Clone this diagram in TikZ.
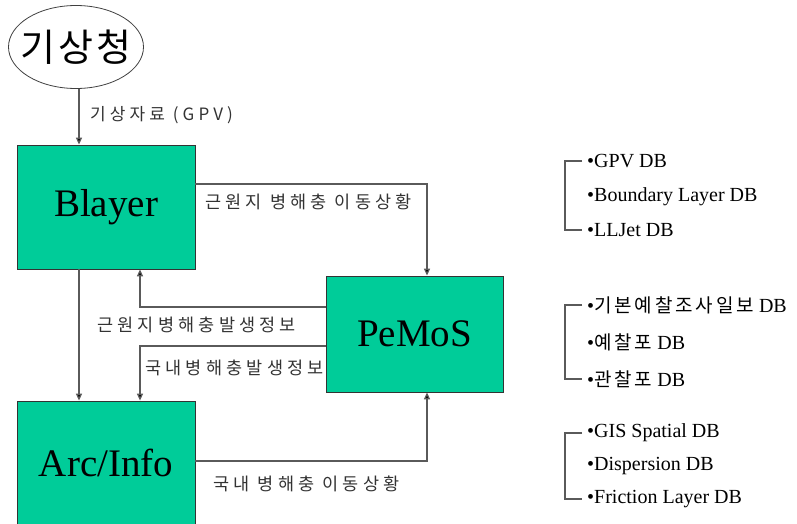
\documentclass[tikz,border=0pt]{standalone}
\usepackage{fontspec}
\setmainfont{Liberation Serif}
\newfontfamily\krfont[LetterSpace=24]{Noto Sans CJK KR}
\newfontfamily\krwide[LetterSpace=8]{Noto Sans CJK KR}
\newfontfamily\krlist[LetterSpace=15]{Noto Sans CJK KR}
\usetikzlibrary{arrows.meta,shapes.geometric}
\definecolor{boxteal}{RGB}{0,204,153}
\definecolor{wire}{RGB}{90,90,90}
\tikzset{
  sysbox/.style={draw=black!80, line width=0.8pt, fill=boxteal,
    minimum width=178pt, inner sep=0pt,
    font=\fontsize{39}{39}\selectfont},
  arr/.style={draw=wire, line width=1.3pt,
    -{Triangle[length=7pt,width=6pt,fill=black]}},
  flowlabel/.style={font=\krfont\fontsize{17.5}{17.5}\selectfont, text=black!80,
    inner sep=0pt},
  dbitem/.style={anchor=west, inner sep=0pt,
    font=\fontsize{20}{20}\selectfont},
  bracket/.style={draw=wire, line width=1.2pt}
}
\newcommand{\dbkor}[1]{{\krlist\fontsize{19}{19}\selectfont #1}}
\begin{document}
\begin{tikzpicture}[x=1pt, y=-1pt]
\useasboundingbox (0,0) rectangle (797,524);

% agency oval (fixed size, text allowed to fill it)
\node[ellipse, draw=black!75, line width=0.8pt, minimum width=135pt,
  minimum height=83pt, inner xsep=-14pt, inner ysep=0pt,
  font=\krwide\fontsize{38}{38}\selectfont] (kma) at (76,47) {기상청};

% processing systems
\node[sysbox, minimum height=124pt] (blayer) at (106,207) {Blayer};
\node[sysbox, minimum width=177pt, minimum height=116pt] (pemos) at (414.5,334) {PeMoS};
\node[sysbox, minimum height=123pt] (arcinfo) at (106,462.5) {Arc/Info};

% routing helpers
\coordinate (xa) at (79,0);
\coordinate (xb) at (140,0);
\coordinate (xc) at (427,0);
\coordinate (ya) at (0,184);
\coordinate (yb) at (0,307);
\coordinate (yc) at (0,346);
\coordinate (yd) at (0,461);

% connectors
\draw[arr] (kma.south -| xa) -- (blayer.north -| xa);
\draw[arr] (blayer.south -| xa) -- (arcinfo.north -| xa);
\draw[arr] (blayer.east |- ya) -| (pemos.north -| xc);
\draw[arr] (pemos.west |- yb) -| (blayer.south -| xb);
\draw[arr] (pemos.west |- yc) -| (arcinfo.north -| xb);
\draw[arr] (arcinfo.east |- yd) -| (pemos.south -| xc);

% connector labels
\node[flowlabel, anchor=west, font=\krfont\fontsize{17}{17}\selectfont] (l0) at (90,115) {기상자료 (GPV)};
\node[flowlabel, anchor=west] (l1) at (205,202) {근원지 병해충 이동상황};
\node[flowlabel, anchor=west] (l2) at (97,325) {근원지병해충발생정보};
\node[flowlabel, anchor=west] (l3) at (145,368) {국내병해충발생정보};
\node[flowlabel, anchor=west] (l4) at (213,484) {국내 병해충 이동상황};

% database groups
\node[dbitem] (g1a) at (587,161) {•GPV DB};
\node[dbitem] (g1b) at (587,197) {•Boundary Layer DB};
\node[dbitem] (g1c) at (587,230) {•LLJet DB};
\draw[bracket] (g1a.west) ++(-5,0) -- ++(-17,0) |- ([xshift=-5pt]g1c.west);

\node[dbitem] (g2a) at (587,305) {•\dbkor{기본예찰조사일보} DB};
\node[dbitem] (g2b) at (587,342) {•\dbkor{예찰포} DB};
\node[dbitem] (g2c) at (587,379) {•\dbkor{관찰포} DB};
\draw[bracket] (g2a.west) ++(-5,0) -- ++(-17,0) |- ([xshift=-5pt]g2c.west);

\node[dbitem] (g3a) at (587,433) {•GIS Spatial DB};
\node[dbitem] (g3b) at (587,466) {•Dispersion DB};
\node[dbitem] (g3c) at (587,499) {•Friction Layer DB};
\draw[bracket] (g3a.west) ++(-5,0) -- ++(-17,0) |- ([xshift=-5pt]g3c.west);
\end{tikzpicture}
\end{document}
